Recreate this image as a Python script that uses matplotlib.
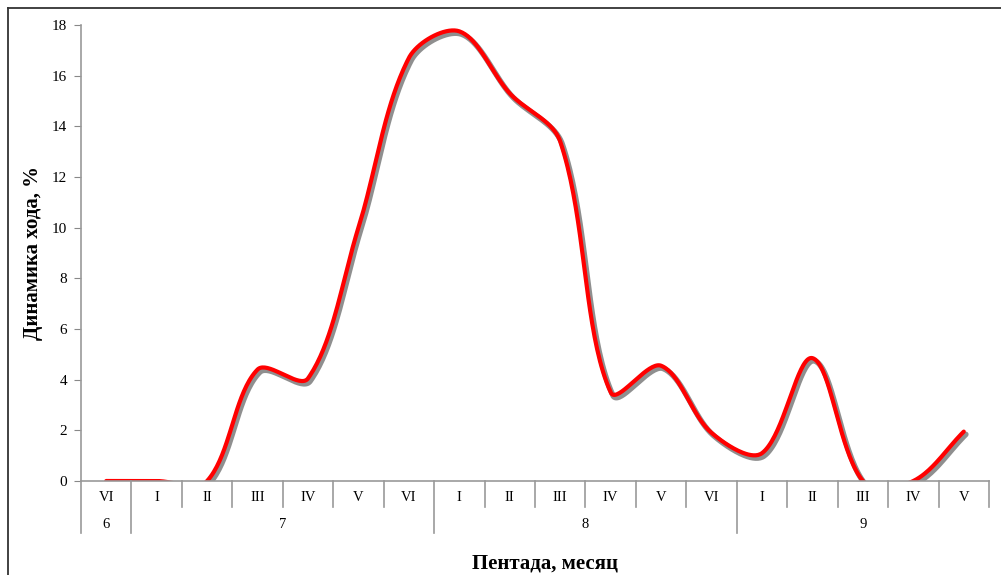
import numpy as np
import matplotlib
matplotlib.use("Agg")
import matplotlib.pyplot as plt
import matplotlib.patheffects as pe
from matplotlib.lines import Line2D

pentads = ["VI", "I", "II", "III", "IV", "V", "VI",
           "I", "II", "III", "IV", "V", "VI",
           "I", "II", "III", "IV", "V"]
months = ["6", "7", "8", "9"]
month_sizes = [1, 6, 6, 5]
values = [0, 0, 0, 4.4, 4.05, 10.0, 16.7,
          17.75, 15.3, 13.4, 3.5, 4.55, 1.9,
          1.1, 4.85, 0, 0, 1.95]

plt.rcParams['font.family'] = ['Liberation Serif', 'DejaVu Serif']

W, H = 1001, 575
x0, x1, y0, y1 = 81, 989, 481, 25


def smooth(y, sx, sy, steps=40):
    # Excel-like smoothed line: Bezier segments, tangents scaled by screen chord lengths
    pts = np.column_stack([np.arange(len(y), dtype=float) * sx, np.asarray(y, float) * sy])
    n = len(pts)
    d = np.r_[np.hypot(*np.diff(pts, axis=0).T)]
    fwd, bwd = [], []
    for i in range(n):
        a = pts[max(i - 1, 0)]
        b = pts[min(i + 1, n - 1)]
        T = b - a
        dl = d[i - 1] if i > 0 else 0.0
        dr = d[i] if i < n - 1 else 0.0
        s = dl + dr
        fwd.append(pts[i] + T * (dr / s) / 3)
        bwd.append(pts[i] - T * (dl / s) / 3)
    t = np.linspace(0, 1, steps)[:, None]
    out = []
    for i in range(n - 1):
        p1, c1, c2, p2 = pts[i], fwd[i], bwd[i + 1], pts[i + 1]
        out.append((1 - t) ** 3 * p1 + 3 * (1 - t) ** 2 * t * c1 + 3 * (1 - t) * t ** 2 * c2 + t ** 3 * p2)
    out = np.vstack(out)
    return out[:, 0] / sx, out[:, 1] / sy


fig = plt.figure(figsize=(10.01, 5.75), dpi=100)
ax = fig.add_axes([x0 / W, 1 - y0 / H, (x1 - x0) / W, (y0 - y1) / H])

px_x = (x1 - x0) / len(pentads)
px_y = (y0 - y1) / 18
cx, cy = smooth(values, px_x, px_y)
ax.plot(cx, cy, color='red', lw=3, solid_capstyle='round',
        path_effects=[pe.SimpleLineShadow(offset=(1.5, -2), shadow_color='#606060', alpha=0.7, linewidth=4),
                      pe.Normal()])

ax.set_xlim(-0.5, len(pentads) - 0.5)
ax.set_ylim(0, 18)
ax.set_yticks(range(0, 19, 2))
ax.tick_params(axis='y', direction='out', length=5, color='#888888', labelsize=11, pad=5)
ax.set_xticks([])
for s in ['top', 'right']:
    ax.spines[s].set_visible(False)
for s in ['left', 'bottom']:
    ax.spines[s].set_color('#999999')
    ax.spines[s].set_linewidth(1.2)

tr = ax.get_xaxis_transform()
row1 = 26 / 456
row2 = 52 / 456
bounds = np.cumsum([0] + month_sizes) - 0.5
for k in range(len(pentads) + 1):
    xb = k - 0.5
    low = row2 if (xb in bounds and k < len(pentads)) else row1
    ax.add_line(Line2D([xb, xb], [0, -low], transform=tr, color='#999999', lw=1.2, clip_on=False))
for i, lab in enumerate(pentads):
    ax.text(i, -0.037, lab, transform=tr, ha='center', va='center', fontsize=10.5)
for j, m in enumerate(months):
    ax.text((bounds[j] + bounds[j + 1]) / 2, -0.096, m, transform=tr, ha='center', va='center', fontsize=10.5)

fig.text(545 / W, 1 - 563 / H, "Пентада, месяц", ha='center', va='center',
         fontsize=15, fontweight='bold')
fig.text(33 / W, 1 - 253 / H, "Динамика хода, %", ha='center', va='center',
         rotation=90, fontsize=15, fontweight='bold')

fig.add_artist(Line2D([8 / W, 8 / W], [0, 1 - 8 / H], color='#333333', lw=1.3))
fig.add_artist(Line2D([8 / W, 1], [1 - 8 / H, 1 - 8 / H], color='#333333', lw=1.3))

fig.savefig("out.png", dpi=100)
